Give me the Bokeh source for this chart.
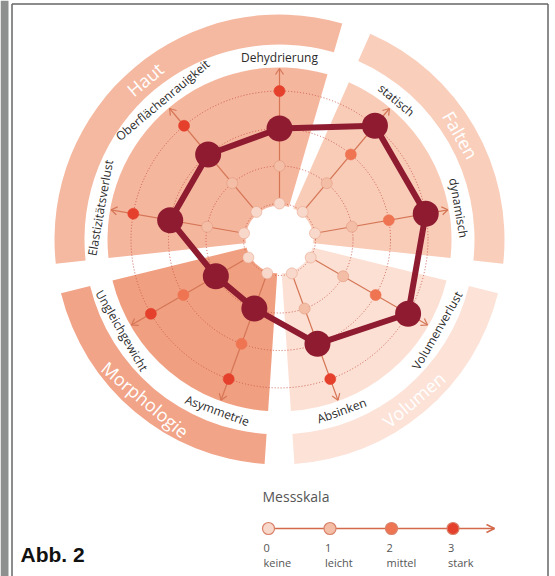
import numpy as np
from bokeh.plotting import figure
from bokeh.models import Range1d, ColumnDataSource
from bokeh.core.properties import value
from bokeh.embed import file_html
from bokeh.resources import INLINE

# ---------------- data ----------------
criteria = ["Dehydrierung", "statisch", "dynamisch", "Volumenverlust", "Absinken",
            "Asymmetrie", "Ungleichgewicht", "Elastizitätsverlust", "Oberflächenrauigkeit"]
scores = [2, 3, 3, 3, 2, 1, 1, 2, 2]
groups = ["Haut", "Falten", "Volumen", "Morphologie"]
group_first = [7, 1, 3, 5]      # first criterion (clockwise) of each group
group_size = [3, 2, 2, 2]
scale_levels = [0, 1, 2, 3]
scale_words = ["keine", "leicht", "mittel", "stark"]
scale_title = "Messskala"
fig_label = "Abb. 2"

# ---------------- layout / style ----------------
CX, CY = 279, 239
W, H = 555, 576
R0, DR = 36, 37.5
R_TIP = 171
R_INNER = 172
R_B0, R_B1 = 195, 225
GAP = 3.8
R_LABEL = 182
R_GLABEL = 209

level_fill = ["#F8D8CB", "#F3BDA6", "#EE7452", "#E4402C"]
level_line = ["#EAA88F", "#E39A7F", "#EE7452", "#E4402C"]
group_inner = ["#F5B69E", "#F9CCB8", "#FCE0D4", "#F09F81"]
group_outer = ["#F5B9A1", "#F9CEBB", "#FCE2D7", "#F1A488"]
DARK = "#8E1B30"
AXIS_C = "#D57656"
RING_C = "#C9584A"
LABEL_FONT = value("Open Sans")

def ang_deg(i):
    return 90.0 - 40.0 * i

def rad(level):
    return R0 + DR * level

p = figure(width=W, height=H, x_range=Range1d(-CX, W - CX),
           y_range=Range1d(CY - H, CY), x_axis_type=None, y_axis_type=None,
           output_backend="svg", toolbar_location=None, min_border=0)
p.grid.visible = False
p.outline_line_color = None
p.background_fill_color = "white"
p.border_fill_color = "white"

# ---------------- sectors ----------------
starts, ends = [], []
for g in range(len(groups)):
    a_first = ang_deg(group_first[g])
    a_last = a_first - 40.0 * (group_size[g] - 1)
    starts.append(np.deg2rad(a_last - 20 + GAP))
    ends.append(np.deg2rad(a_first + 20 - GAP))
sec = ColumnDataSource(dict(s=starts, e=ends, ci=group_inner, co=group_outer))
p.wedge(x=0, y=0, radius=R_INNER, start_angle="s", end_angle="e", source=sec,
        fill_color="ci", line_color=None)
p.annular_wedge(x=0, y=0, inner_radius=R_B0, outer_radius=R_B1, start_angle="s",
                end_angle="e", source=sec, fill_color="co", line_color=None)

# white centre
p.circle(x=0, y=0, radius=R0 - 2, fill_color="white", line_color=None)

# dashed rings
p.circle(x=[0] * 4, y=[0] * 4, radius=[rad(k) for k in scale_levels], fill_color=None,
         line_color=RING_C, line_width=1, line_dash="1 2", line_alpha=0.9)

# axes with arrowheads
n = len(criteria)
ax_x0, ax_y0, ax_x1, ax_y1 = [], [], [], []
hx0, hy0, hx1, hy1 = [], [], [], []
for i in range(n):
    t = np.deg2rad(ang_deg(i))
    d = np.array([np.cos(t), np.sin(t)])
    q = np.array([-d[1], d[0]])
    ax_x0.append(R0 * d[0]); ax_y0.append(R0 * d[1])
    tip = R_TIP * d
    ax_x1.append(tip[0]); ax_y1.append(tip[1])
    for s in (1, -1):
        b = tip - 6 * d + s * 4 * q
        hx0.append(b[0]); hy0.append(b[1]); hx1.append(tip[0]); hy1.append(tip[1])
p.segment(ax_x0, ax_y0, ax_x1, ax_y1, line_color=AXIS_C, line_width=1.2)
p.segment(hx0, hy0, hx1, hy1, line_color=AXIS_C, line_width=1.2)

# small level dots
dx, dy, dfc, dlc = [], [], [], []
for i in range(n):
    t = np.deg2rad(ang_deg(i))
    for k in scale_levels:
        if k == scores[i]:
            continue
        dx.append(rad(k) * np.cos(t)); dy.append(rad(k) * np.sin(t))
        dfc.append(level_fill[k]); dlc.append(level_line[k])
p.scatter(dx, dy, size=11, fill_color=dfc, line_color=dlc, line_width=0.6)

# data polygon
px = [rad(scores[i]) * np.cos(np.deg2rad(ang_deg(i))) for i in range(n)]
py = [rad(scores[i]) * np.sin(np.deg2rad(ang_deg(i))) for i in range(n)]
p.line(px + px[:1], py + py[:1], line_color=DARK, line_width=6, line_join="round")
p.scatter(px, py, size=26, fill_color=DARK, line_color=None)

# criterion labels
lx, ly, la = [], [], []
for i in range(n):
    a = ang_deg(i)
    t = np.deg2rad(a)
    lx.append(R_LABEL * np.cos(t)); ly.append(R_LABEL * np.sin(t))
    rot = a - 90 if np.sin(t) > 0 else a + 90
    la.append(np.deg2rad(rot))
p.text(lx, ly, text=criteria, angle=la, text_align="center", text_baseline="middle",
       text_font=LABEL_FONT, text_font_size="12px", text_color="#2A2A2A")

# group labels
gx, gy, ga = [], [], []
for g in range(len(groups)):
    a = (np.rad2deg(starts[g]) + np.rad2deg(ends[g])) / 2
    t = np.deg2rad(a)
    gx.append(R_GLABEL * np.cos(t)); gy.append(R_GLABEL * np.sin(t))
    rot = a - 90 if np.sin(t) > 0 else a + 90
    ga.append(np.deg2rad(rot))
p.text(gx, gy, text=groups, angle=ga, text_align="center", text_baseline="middle",
       text_font=LABEL_FONT, text_font_size="18px", text_color="white")

# ---------------- scale legend ----------------
LX0, LY = 268 - CX, CY - 528
LSTEP = 61.5
LEND = 494 - CX
p.text([262 - CX], [CY - 496], text=[scale_title], text_align="left", text_baseline="middle",
       text_font=LABEL_FONT, text_font_size="14px", text_color="#555555")
p.segment([LX0], [LY], [LEND], [LY], line_color="#D2694A", line_width=1.5)
p.segment([LEND - 8, LEND - 8], [LY + 4, LY - 4], [LEND, LEND], [LY, LY],
          line_color="#D2694A", line_width=1.5)
sx = [LX0 + LSTEP * k for k in scale_levels]
p.scatter(sx, [LY] * 4, size=12, fill_color=level_fill, line_color="#D9826A", line_width=1.2)
p.text([x - 5 for x in sx], [CY - 547] * 4, text=[str(k) for k in scale_levels],
       text_align="left", text_baseline="middle", text_font=LABEL_FONT,
       text_font_size="11px", text_color="#555555")
p.text([x - 5 for x in sx], [CY - 562] * 4, text=scale_words,
       text_align="left", text_baseline="middle", text_font=LABEL_FONT,
       text_font_size="11px", text_color="#555555")

# figure label and frame
p.text([20 - CX], [CY - 554], text=[fig_label], text_align="left", text_baseline="middle",
       text_font=value("Liberation Sans"), text_font_style="bold",
       text_font_size="21px", text_color="#111111")
p.quad(left=[-CX], right=[8 - CX], top=[CY], bottom=[CY - H], fill_color="#8E9090",
       line_color=None)
p.segment([11.5 - CX, 547.5 - CX, 11.5 - CX], [CY - 3.5, CY - 3.5, CY - 3.5],
          [11.5 - CX, 547.5 - CX, 547.5 - CX], [CY - H, CY - H, CY - 3.5],
          line_color="#666666", line_width=1.5)

open("out.html", "w").write(file_html(p, INLINE))
